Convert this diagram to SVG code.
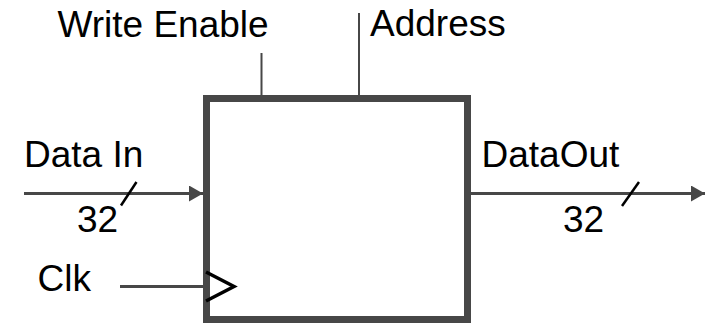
<svg xmlns="http://www.w3.org/2000/svg" width="711" height="323" viewBox="0 0 711 323">
<style>
  .lbl { font-family: "Liberation Sans", Arial, sans-serif; font-size: 37px; fill: #000; }
  .wire { stroke: #474747; stroke-width: 3; fill: none; }
  .thin { stroke: #474747; stroke-width: 2; fill: none; }
  .slash { stroke: #000; stroke-width: 2.5; fill: none; }
</style>
<defs>
  <marker id="arr" markerUnits="userSpaceOnUse" markerWidth="14" markerHeight="16" refX="14" refY="8" orient="auto">
    <path d="M0,0 L14,8 L0,16 Z" fill="#474747"/>
  </marker>
</defs>
<rect width="711" height="323" fill="#fff"/>
<g id="connectors">
  <line class="thin" x1="261.5" y1="53" x2="261.5" y2="96"/>
  <line class="thin" x1="359" y1="13" x2="359" y2="96"/>
  <line class="wire" x1="24" y1="193.5" x2="203" y2="193.5" marker-end="url(#arr)"/>
  <line class="wire" x1="471" y1="193.5" x2="705" y2="193.5" marker-end="url(#arr)"/>
  <line class="wire" x1="120" y1="286.5" x2="204" y2="286.5"/>
  <line class="slash" x1="136.5" y1="182" x2="121" y2="205.5"/>
  <line class="slash" x1="639" y1="182" x2="622" y2="206"/>
</g>
<g id="memory">
  <rect x="206.5" y="98.5" width="261" height="221" fill="none" stroke="#474747" stroke-width="7"/>
  <polyline points="206,272 234,286.5 206,301" fill="none" stroke="#000" stroke-width="3.5"/>
</g>
<g id="labels">
  <text class="lbl" x="57.5" y="37">Write Enable</text>
  <text class="lbl" x="370" y="36">Address</text>
  <text class="lbl" x="24" y="166.5">Data In</text>
  <text class="lbl" x="77" y="231.5">32</text>
  <text class="lbl" x="37.5" y="290.5">Clk</text>
  <text class="lbl" x="481.5" y="166.5">DataOut</text>
  <text class="lbl" x="563" y="231.5">32</text>
</g>
</svg>
